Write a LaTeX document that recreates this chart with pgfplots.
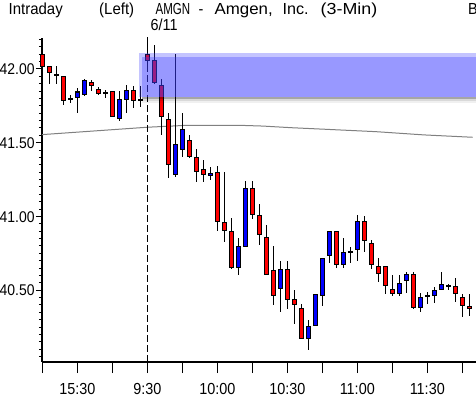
\documentclass[border=0pt]{standalone}
\usepackage{fontspec}
\setmainfont{Liberation Sans}[FakeStretch=0.9]
\usepackage{pgfplots}
\usepackage{pgfplotstable}
\pgfplotsset{compat=1.18}
\definecolor{upc}{RGB}{0,0,255}
\definecolor{dnc}{RGB}{255,0,0}
\definecolor{bandc}{RGB}{58,58,255}
\definecolor{mac}{RGB}{128,128,128}

% 3-minute candles: i = bar index (0 = 9:30 on 6/11)
\pgfplotstableread{
i O H L C
-15 42.100 42.120 41.990 42.020
-14 42.020 42.020 41.900 41.975
-13 41.965 42.020 41.900 41.960
-12 41.950 41.950 41.755 41.785
-11 41.795 41.827 41.767 41.800
-10 41.808 41.869 41.700 41.844
-9 41.830 41.930 41.820 41.925
-8 41.910 41.925 41.850 41.887
-7 41.862 41.876 41.824 41.833
-6 41.840 41.860 41.800 41.835
-5 41.845 41.850 41.672 41.677
-4 41.663 41.853 41.650 41.790
-3 41.794 41.893 41.700 41.851
-2 41.851 41.887 41.733 41.788
-1 41.790 41.886 41.740 41.787
0 42.100 42.215 41.990 42.060
1 42.056 42.160 41.900 41.907
2 41.889 41.933 41.555 41.680
3 41.660 41.700 41.260 41.354
4 41.286 42.100 41.270 41.490
5 41.451 41.700 41.405 41.593
6 41.512 41.553 41.395 41.405
7 41.403 41.460 41.232 41.304
8 41.320 41.380 41.236 41.286
9 41.277 41.338 41.247 41.293
10 41.295 41.340 40.900 40.967
11 40.960 41.300 40.830 40.904
12 40.900 40.990 40.645 40.652
13 40.654 40.854 40.600 40.798
14 40.800 41.240 40.795 41.190
15 41.190 41.240 40.986 41.015
16 41.008 41.085 40.810 40.881
17 40.859 40.943 40.600 40.607
18 40.631 40.800 40.403 40.463
19 40.514 40.700 40.350 40.643
20 40.643 40.700 40.376 40.437
21 40.434 40.500 40.270 40.405
22 40.373 40.410 40.167 40.174
23 40.174 40.300 40.098 40.255
24 40.258 40.475 40.255 40.472
25 40.463 40.720 40.395 40.717
26 40.734 40.900 40.688 40.900
27 40.900 40.900 40.650 40.677
28 40.677 40.853 40.648 40.757
29 40.755 40.795 40.683 40.760
30 40.778 41.010 40.695 40.965
31 40.965 41.005 40.758 40.840
32 40.818 40.840 40.643 40.676
33 40.662 40.717 40.557 40.615
34 40.662 40.665 40.472 40.529
35 40.502 40.603 40.459 40.480
36 40.480 40.603 40.459 40.547
37 40.565 40.624 40.483 40.608
38 40.610 40.624 40.376 40.382
39 40.382 40.483 40.355 40.453
40 40.457 40.488 40.407 40.461
41 40.466 40.520 40.417 40.500
42 40.506 40.624 40.500 40.540
43 40.531 40.545 40.500 40.527
44 40.524 40.581 40.417 40.480
45 40.453 40.473 40.317 40.396
46 40.392 40.473 40.328 40.378
}\candles

% grey average line
\pgfplotstableread{
x y
-15.04 41.555
0 41.605
5.63 41.618
13.24 41.618
16.49 41.613
20.53 41.602
25.53 41.591
32.67 41.575
39.53 41.553
46.49 41.537
}\maline

\begin{document}
\begin{tikzpicture}[x=1pt,y=1pt,font=\fontsize{16}{19}\selectfont]
\useasboundingbox (0,0) rectangle (476,398);
\clip (0,0) rectangle (476,398);
\begin{axis}[
  at={(42pt,36pt)}, anchor=south west,
  scale only axis, width=434pt, height=324pt,
  xmin=-15.04, xmax=46.96, ymin=40.0136, ymax=42.21,
  axis x line=bottom, axis y line=left,
  axis line style={-, line width=1.2pt, black},
  clip=false,
  tick align=outside,
  tick style={black, line width=1pt},
  major tick length=6pt, minor tick length=3pt,
  xtick style={/pgfplots/major tick length=11pt},
  xtick={-15,-10,...,45},
  xticklabels={,15:30,,9:30,,10:00,,10:30,,11:00,,11:30,},
  ytick={40.5,41,41.5,42},
  minor ytick={40.05,40.10,40.15,40.20,40.25,40.30,40.35,40.40,40.45,40.55,40.60,40.65,40.70,40.75,40.80,40.85,40.90,40.95,41.05,41.10,41.15,41.20,41.25,41.30,41.35,41.40,41.45,41.55,41.60,41.65,41.70,41.75,41.80,41.85,41.90,41.95,42.05,42.10,42.15,42.20},
  /pgf/number format/assume math mode=true,
  yticklabel style={/pgf/number format/.cd, fixed, fixed zerofill, precision=2, /tikz/.cd,
    font=\fontsize{15.5}{19}\selectfont, anchor=base east, inner sep=0pt, xshift=-1.2pt, yshift=-5.6pt},
  xticklabel style={font=\fontsize{16}{19}\selectfont, yshift=-11.5pt},
]
% grey average line
\addplot[mac, line width=1pt] table[x=x, y=y] {\maline};
% session divider
\addplot[black, line width=1pt, dash pattern=on 7pt off 3pt] coordinates {(0,40.0136) (0,42.22)};
% wicks
\addplot[draw=none, mark=none,
  error bars/.cd, y dir=both, y explicit, error mark=none,
  error bar style={draw=black, line width=1pt}]
  table[x=i, y expr={(\thisrow{H}+\thisrow{L})/2}, y error expr={(\thisrow{H}-\thisrow{L})/2}] {\candles};
% body outlines
\addplot[draw=none, mark=none,
  error bars/.cd, y dir=both, y explicit, error mark=none,
  error bar style={draw=black, line width=5pt}]
  table[x=i, y expr={(\thisrow{O}+\thisrow{C})/2}, y error expr={abs(\thisrow{O}-\thisrow{C})/2+0.0034}] {\candles};
% up bodies
\addplot[draw=none, mark=none,
  error bars/.cd, y dir=both, y explicit, error mark=none,
  error bar style={draw=upc, line width=3pt}]
  table[x=i, y expr={(\thisrow{O}+\thisrow{C})/2}, y error expr={(\thisrow{C}>\thisrow{O})*max(abs(\thisrow{C}-\thisrow{O})/2-0.0034,0)}] {\candles};
% down bodies
\addplot[draw=none, mark=none,
  error bars/.cd, y dir=both, y explicit, error mark=none,
  error bar style={draw=dnc, line width=3pt}]
  table[x=i, y expr={(\thisrow{O}+\thisrow{C})/2}, y error expr={(\thisrow{O}>\thisrow{C})*max(abs(\thisrow{C}-\thisrow{O})/2-0.0034,0)}] {\candles};
% translucent band
\addplot[draw=none, fill=bandc, fill opacity=0.52] coordinates {(-0.75,41.81) (47,41.81) (47,42.083) (-0.75,42.083)} -- cycle;
\addplot[draw=none, fill=bandc, fill opacity=0.30] coordinates {(-1.15,42.083) (47,42.083) (47,42.106) (-1.15,42.106)} -- cycle;
\addplot[draw=none, fill=bandc, fill opacity=0.30] coordinates {(-1.15,41.81) (-0.75,41.81) (-0.75,42.083) (-1.15,42.083)} -- cycle;
\addplot[draw=none, fill=black, fill opacity=0.35] coordinates {(-0.75,41.796) (47,41.796) (47,41.81) (-0.75,41.81)} -- cycle;
\addplot[draw=none, fill=black, fill opacity=0.15] coordinates {(-0.75,41.782) (47,41.782) (47,41.796) (-0.75,41.796)} -- cycle;
\addplot[draw=none, fill=black, fill opacity=0.06] coordinates {(-0.75,41.768) (47,41.768) (47,41.782) (-0.75,41.782)} -- cycle;
\end{axis}
\node[anchor=base west, inner sep=0pt] at (8.5,383) {\scalebox{1.04}[1]{Intraday}};
\node[anchor=base west, inner sep=0pt] at (99,383) {\scalebox{1.04}[1]{(Left)}};
\node[anchor=base west, inner sep=0pt] at (155.5,383) {\scalebox{0.8}[1]{AMGN}};
\node[anchor=base west, inner sep=0pt] at (198.5,383) {-};
\node[anchor=base west, inner sep=0pt] at (214.5,383) {\scalebox{1.17}[1]{Amgen,}};
\node[anchor=base west, inner sep=0pt] at (282.5,383) {\scalebox{1.12}[1]{Inc.}};
\node[anchor=base west, inner sep=0pt] at (320.5,383) {\scalebox{1.24}[1]{(3-Min)}};
\node[anchor=base west, inner sep=0pt] at (468,383) {B};
\node[anchor=base west, inner sep=0pt] at (150.5,367.3) {6/11};
\end{tikzpicture}
\end{document}
